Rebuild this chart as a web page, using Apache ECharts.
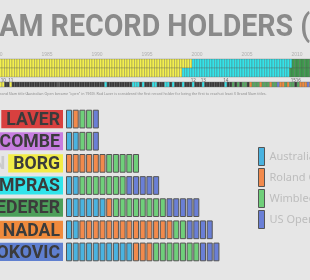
<!DOCTYPE html>
<html>
<head>
<meta charset="utf-8">
<script src="https://cdn.jsdelivr.net/npm/echarts@6/dist/echarts.min.js"></script>
<style>
  html, body { margin: 0; padding: 0; background: #e6e6e6; }
  #main { width: 310px; height: 280px; }
</style>
</head>
<body>
<div id="main"></div>
<script>
// players, surnames shown in coloured boxes
const players = ["LAVER", "NEWCOMBE", "BORG", "SAMPRAS", "FEDERER", "NADAL", "DJOKOVIC"];
const firstNames = ["ROD", "JOHN", "BJÖRN", "PETE", "ROGER", "RAFAEL", "NOVAK"];
const playerColors = ["#d8403f", "#c77de0", "#f2ec48", "#30e4ea", "#4c9f5a", "#f08a3c", "#5f7fcf"];

// open era titles per slam
const slamNames = ["Australian Open", "Roland Garros", "Wimbledon", "US Open"];
const slamColors = ["#4ab3e0", "#f28a4c", "#6fcf7a", "#6a7fd6"];
const ausTitles = [1, 2, 0, 2, 6, 2, 10];
const rgTitles = [1, 0, 6, 0, 1, 14, 3];
const wimTitles = [2, 2, 5, 7, 8, 2, 7];
const usTitles = [1, 1, 0, 5, 5, 4, 3];

// timeline: year labels, record holder changes (top row = holder, bottom = holder incl. ties)
const yearTicks = [1980, 1985, 1990, 1995, 2000, 2005, 2010, 2015];
const recordTop = [[1980, "B"], [1999.5, "S"], [2009.5, "F"]];
const recordBottom = [[1980, "B"], [1998.5, "S"], [2009.25, "F"]];
// slam winners per year, AUS FRA WIM US  (x = someone else, - = not played)
const winYears = [1980, 1981, 1982, 1983, 1984, 1985, 1986, 1987, 1988, 1989, 1990, 1991, 1992, 1993, 1994, 1995,
  1996, 1997, 1998, 1999, 2000, 2001, 2002, 2003, 2004, 2005, 2006, 2007, 2008, 2009, 2010, 2011];
const winners = ["xBBx", "xBxx", "xxxx", "xxxx", "xxxx", "xxxx", "-xxx", "xxxx", "xxxx", "xxxx", "xxxS", "xxxx",
  "xxxx", "xxSS", "SxSx", "xxSS", "xxxS", "SxSx", "xxSx", "xxSx", "xxSx", "xxxx", "xxxS", "xxFx", "FxFF", "xNFF",
  "FNFF", "FNFF", "DNNF", "NFFx", "FNNN", "DNDD"];
const milestones = [[1980.5, "10"], [1981.25, "11"], [1999.5, "12"], [2000.5, "13"], [2002.75, "14"], [2009.5, "15"], [2010, "16"]];

const bandColors = { B: "#f3ef4e", S: "#34e2e8", F: "#3f9b4e" };
const stripColors = { B: "#f3ef4e", S: "#34e2e8", F: "#55a860", N: "#f08a3c", D: "#6a7fd6", x: "#383838", "-": "#555" };

const BOLD = "Roboto";
function textW(str, font) {
  const ctx = document.createElement("canvas").getContext("2d");
  ctx.font = font;
  return ctx.measureText(str).width;
}

// title, squeezed so the visible part fills the width
const titleFull = "GRAND SLAM RECORD HOLDERS (1968–2023)";
const titleFont = "bold 32px " + BOLD;
const titleScale = 311 / textW("AM RECORD HOLDERS (", titleFont);
const titleX = -textW("GRAND SL", titleFont) * titleScale - 1;

const noteFont = "3.6px 'Noto Sans'";
const noteText = 'Grand Slam title (Australian Open became "open" in 1969). Rod Laver is considered the first record holder for being the first to reach at least 3 Grand Slam titles.';
const noteX = -textW("G", noteFont);

const nameFont = "bold 19px " + BOLD;
const nameScale = 0.93;

function holderAt(list, t) {
  let h = list[0][1];
  list.forEach(function (s) { if (t >= s[0]) h = s[1]; });
  return h;
}

// band and strip data, one cell per tournament
const bandData = [];
const stripData = [];
winYears.forEach(function (y, i) {
  for (let k = 0; k < 4; k++) {
    const t = y + k * 0.25;
    bandData.push([t, 0, holderAt(recordTop, t)]);
    bandData.push([t, 1, holderAt(recordBottom, t)]);
    stripData.push([t, 2, winners[i][k]]);
  }
});
const rowY = [[0, 9], [9, 18], [23, 28]];

function cellItem(list, colors, stroke, lw) {
  return function (params, api) {
    const t = api.value(0);
    const r = rowY[api.value(1)];
    const a = api.coord([t, r[0]]);
    const b = api.coord([t + 0.25, r[1]]);
    return {
      type: "rect",
      shape: { x: a[0], y: a[1], width: b[0] - a[0], height: b[1] - a[1] },
      style: { fill: colors[list[params.dataIndex][2]], stroke: stroke, lineWidth: lw }
    };
  };
}

// slam blocks for each player
function blocksFor(counts) {
  const out = [];
  counts.forEach(function (c, p) {
    let start = 0;
    if (counts === rgTitles) start = ausTitles[p];
    if (counts === wimTitles) start = ausTitles[p] + rgTitles[p];
    if (counts === usTitles) start = ausTitles[p] + rgTitles[p] + wimTitles[p];
    for (let i = 0; i < c; i++) out.push([start + i, p]);
  });
  return out;
}
function blockItem(params, api) {
  const p = api.coord([api.value(0), api.value(1)]);
  const pitch = api.size([1, 0])[0];
  const h = api.size([0, 1])[1] * 0.8;
  return {
    type: "rect",
    shape: { x: p[0] + 0.5, y: p[1] - h / 2, width: pitch * 0.75, height: h },
    style: { fill: api.visual("color"), stroke: "#555", lineWidth: 1 }
  };
}
// name boxes in front of the blocks
function nameItem(params, api) {
  const i = api.value(1);
  const p = api.coord([0, i]);
  const h = api.size([0, 1])[1] * 0.82;
  const w = textW(players[i], nameFont) * nameScale;
  const right = p[0] - 3;
  const boxW = w + 8;
  return {
    type: "group",
    children: [
      { type: "rect", shape: { x: right - boxW, y: p[1] - h / 2, width: boxW, height: h },
        style: { fill: playerColors[i] } },
      { type: "text", x: right - 3, y: p[1] + 1, scaleX: nameScale,
        style: { text: players[i], font: nameFont, fill: "#3b3b3b", align: "right", verticalAlign: "middle" } },
      { type: "text", x: right - boxW - 3, y: p[1] + 1, scaleX: nameScale,
        style: { text: firstNames[i], font: nameFont, fill: "#cbcbcb", align: "right", verticalAlign: "middle" } }
    ]
  };
}

const chart = echarts.init(document.getElementById("main"));
const option = {
  backgroundColor: "#e6e6e6",
  animation: false,
  graphic: [
    { type: "text", x: titleX, y: 28, scaleX: titleScale,
      style: { text: titleFull, font: titleFont, fill: "#8a8a8a", verticalAlign: "middle" } },
    { type: "text", left: noteX, top: 92, style: { text: noteText, font: noteFont, fill: "#8d8d8d" } }
  ],
  legend: {
    orient: "vertical", left: 258, top: 147, padding: 0, itemWidth: 6, itemHeight: 18, itemGap: 2, icon: "rect",
    itemStyle: { borderColor: "#555", borderWidth: 1 },
    textStyle: { color: "#bdbdbd", fontSize: 11, fontFamily: "Noto Sans" },
    data: slamNames
  },
  grid: [
    { left: -3, width: 350, top: 59, height: 28, outerBoundsMode: "none", containLabel: false },
    { left: 66, width: 201, top: 108, height: 155, outerBoundsMode: "none", containLabel: false }
  ],
  xAxis: [
    {
      gridIndex: 0, type: "value", min: 1980, max: 2015, interval: 5, position: "top",
      axisLine: { show: false }, axisTick: { show: false }, splitLine: { show: false },
      axisLabel: { fontSize: 5, color: "#b0b0b0", margin: 2,
        customValues: yearTicks, formatter: function (v) { return String(v); } }
    },
    { gridIndex: 1, type: "value", min: 0, max: 30, show: false }
  ],
  yAxis: [
    { gridIndex: 0, type: "value", min: 0, max: 28, inverse: true, show: false },
    { gridIndex: 1, type: "category", data: players, inverse: true, show: false }
  ],
  series: [
    { type: "custom", xAxisIndex: 0, yAxisIndex: 0, data: bandData, silent: true, clip: false,
      renderItem: cellItem(bandData, bandColors, "rgba(80,80,80,0.55)", 0.5) },
    { type: "custom", xAxisIndex: 0, yAxisIndex: 0, data: stripData, silent: true, clip: false,
      renderItem: cellItem(stripData, stripColors, "#6a6a6a", 0.4) },
    {
      type: "custom", xAxisIndex: 0, yAxisIndex: 0, silent: true, clip: false,
      data: milestones.map(function (m) { return [m[0], 21.5]; }),
      renderItem: function (params, api) {
        const p = api.coord([api.value(0) + 0.125, api.value(1)]);
        return {
          type: "text",
          style: { text: milestones[params.dataIndex][1], x: p[0], y: p[1], align: "center",
            verticalAlign: "middle", font: "4.5px 'Noto Sans'", fill: "#666" }
        };
      }
    },
    { type: "custom", xAxisIndex: 1, yAxisIndex: 1, silent: true, clip: false,
      data: players.map(function (p, i) { return [0, i]; }), renderItem: nameItem },
    { name: slamNames[0], type: "custom", xAxisIndex: 1, yAxisIndex: 1, data: blocksFor(ausTitles),
      itemStyle: { color: slamColors[0] }, renderItem: blockItem },
    { name: slamNames[1], type: "custom", xAxisIndex: 1, yAxisIndex: 1, data: blocksFor(rgTitles),
      itemStyle: { color: slamColors[1] }, renderItem: blockItem },
    { name: slamNames[2], type: "custom", xAxisIndex: 1, yAxisIndex: 1, data: blocksFor(wimTitles),
      itemStyle: { color: slamColors[2] }, renderItem: blockItem },
    { name: slamNames[3], type: "custom", xAxisIndex: 1, yAxisIndex: 1, data: blocksFor(usTitles),
      itemStyle: { color: slamColors[3] }, renderItem: blockItem }
  ]
};
chart.setOption(option);
</script>
</body>
</html>
